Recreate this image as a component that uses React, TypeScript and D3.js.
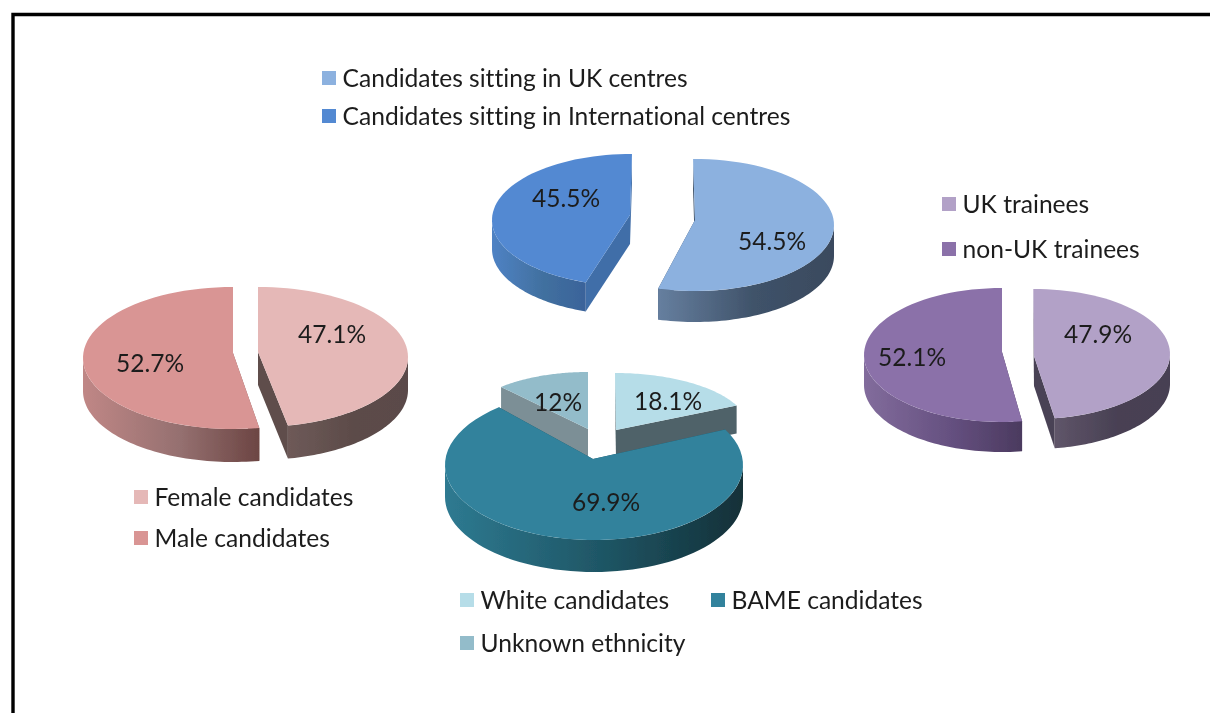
import React from "react";
import * as d3 from "d3";

// ---------- data ----------
const venueLabels = ["Candidates sitting in UK centres", "Candidates sitting in International centres"];
const venueValues = [54.5, 45.5];
const genderLabels = ["Female candidates", "Male candidates"];
const genderValues = [47.1, 52.7];
const traineeLabels = ["UK trainees", "non-UK trainees"];
const traineeValues = [47.9, 52.1];
const ethnicityLabels = ["White candidates", "BAME candidates", "Unknown ethnicity"];
const ethnicityValues = [18.1, 69.9, 12];

// ---------- appearance ----------
type Look = {
  top: string; wall: [string, string, string]; face: string;
  apex: [number, number]; c: [number, number]; rx: number; ry: number; d: number; label: [number, number];
  shift?: [number, number]; // perspective correction of the cut lines, degrees
};
const venueLooks: Look[] = [
  { top: "#8CB1DF", wall: ["#667F9F", "#3F5269", "#3A4A5E"], face: "#3F5269", apex: [695, 220], c: [695, 225], rx: 139, ry: 66, d: 31, label: [772, 240], shift: [-0.8, -0.8] },
  { top: "#5389D2", wall: ["#4F82C4", "#41709F", "#3A639A"], face: "#406EA8", apex: [630, 215], c: [631, 220], rx: 139, ry: 66, d: 29, label: [566, 197], shift: [2.8, 0.4] },
];
const genderLooks: Look[] = [
  { top: "#E5B8B7", wall: ["#6E5A58", "#5C4B49", "#5A4A48"], face: "#5E4D4B", apex: [258, 352], c: [258, 357], rx: 150, ry: 70, d: 33, label: [332, 333], shift: [0, -1.4] },
  { top: "#D99594", wall: ["#C08786", "#957070", "#6C4543"], face: "#8A5F5E", apex: [233, 353], c: [233, 358], rx: 150, ry: 71, d: 33, label: [150, 362] },
];
const traineeLooks: Look[] = [
  { top: "#B2A1C7", wall: ["#5F5569", "#484053", "#473F52"], face: "#4A4255", apex: [1034, 356], c: [1034, 354], rx: 136, ry: 65, d: 30, label: [1098, 333], shift: [-0.3, -1.2] },
  { top: "#8B71A9", wall: ["#826C9C", "#655080", "#4B3A5F"], face: "#4B3A5F", apex: [1002, 352], c: [1002, 355], rx: 138, ry: 67, d: 30, label: [912, 356], shift: [-0.8, 0] },
];
const ethnicityLooks: Look[] = [
  { top: "#B6DDE8", wall: ["#4F6269", "#4F6269", "#4F6269"], face: "#4F6269", apex: [616, 430], c: [615, 429], rx: 134, ry: 56, d: 28, label: [668, 400] },
  { top: "#31829C", wall: ["#2E7A91", "#1E5463", "#133038"], face: "#1E5463", apex: [593, 459], c: [594, 465], rx: 149, ry: 75, d: 32, label: [606, 501], shift: [-3.5, 3.5] },
  { top: "#93BCCA", wall: ["#7B8F96", "#7B8F96", "#7B8F96"], face: "#7B8F96", apex: [588, 429], c: [588, 427], rx: 127, ry: 55, d: 29, label: [558, 401] },
];

const legendRows = [
  { labels: venueLabels, looks: venueLooks, at: [[322, 78], [322, 116]] },
  { labels: genderLabels, looks: genderLooks, at: [[134, 497], [134, 538]] },
  { labels: traineeLabels, looks: traineeLooks, at: [[942, 204], [942, 249]] },
  { labels: ethnicityLabels, looks: ethnicityLooks, at: [[460, 600], [711, 600], [460, 643]] },
];

const pies = [
  { id: "venue", values: venueValues, looks: venueLooks, order: [1, 0] },
  { id: "gender", values: genderValues, looks: genderLooks, order: [0, 1] },
  { id: "trainee", values: traineeValues, looks: traineeLooks, order: [0, 1] },
  { id: "eth", values: ethnicityValues, looks: ethnicityLooks, order: [2, 0, 1] },
];

const FONT = "Lato, Carlito, 'Open Sans', sans-serif";
const TEXT = "#1c1c1c";
const DEG = Math.PI / 180;
const line = d3.line<[number, number]>().x((p) => p[0]).y((p) => p[1]);

function Slice({ id, look, a0, a1 }: { id: string; look: Look; a0: number; a1: number }) {
  const rim = (a: number, dy = 0): [number, number] => [
    look.c[0] + look.rx * Math.sin(a),
    look.c[1] - look.ry * Math.cos(a) + dy,
  ];
  const arcPts = (s: number, e: number, dy = 0) =>
    d3.range(0, 61).map((i) => rim(s + ((e - s) * i) / 60, dy));
  const { apex, d } = look;
  const start = a0 + (look.shift ? look.shift[0] * DEG : 0);
  const end = a1 + (look.shift ? look.shift[1] * DEG : 0);
  const down = (p: [number, number]): [number, number] => [p[0], p[1] + d];
  const topPts: [number, number][] = [apex, ...arcPts(start, end)];

  const s = Math.max(start, Math.PI / 2);
  const e = Math.min(end, (3 * Math.PI) / 2);
  const hasWall = e > s;
  const wallPts = hasWall ? [...arcPts(s, e), ...arcPts(s, e, d).reverse()] : [];
  const xs = wallPts.map((p) => p[0]);
  const x0 = xs.length ? d3.min(xs)! : 0;
  const x1 = xs.length ? d3.max(xs)! : 1;

  const faces = [rim(start), rim(end)].map((p) => [apex, p, down(p), down(apex)] as [number, number][]);

  return (
    <g>
      <defs>
        <linearGradient id={id} gradientUnits="userSpaceOnUse" x1={x0} x2={x1} y1={0} y2={0}>
          <stop offset="0" stopColor={look.wall[0]} />
          <stop offset="0.55" stopColor={look.wall[1]} />
          <stop offset="1" stopColor={look.wall[2]} />
        </linearGradient>
      </defs>
      {faces.map((f, i) => (
        <path key={i} d={line(f) + "Z"} fill={look.face} />
      ))}
      {hasWall && <path d={line(wallPts) + "Z"} fill={`url(#${id})`} />}
      <path d={line(topPts) + "Z"} fill={look.top} />
    </g>
  );
}

export default function App() {
  const pieGen = d3.pie<number>().sort(null).value((v) => v);
  return (
    <svg
      width={1210}
      height={713}
      viewBox="0 0 1210 713"
      style={{ position: "absolute", left: 0, top: 0, display: "block", background: "#fff", fontVariantLigatures: "none" }}
    >
      <defs>
        <filter id="soft" x="-5%" y="-5%" width="110%" height="110%">
          <feGaussianBlur stdDeviation="0.45" />
        </filter>
      </defs>
      <path d="M13 713V14.5H1210" fill="none" stroke="#000" strokeWidth={3.4} />
      <g filter="url(#soft)">
        {pies.map((p) => {
          const arcs = pieGen(p.values);
          return (
            <g key={p.id}>
              {p.order.map((i) => (
                <Slice key={i} id={`${p.id}-${i}`} look={p.looks[i]} a0={arcs[i].startAngle} a1={arcs[i].endAngle} />
              ))}
              {p.values.map((v, i) => (
                <text
                  key={i}
                  x={p.looks[i].label[0]}
                  y={p.looks[i].label[1]}
                  textAnchor="middle"
                  dominantBaseline="central"
                  fontFamily={FONT}
                  fontSize={24.5}
                  fill={TEXT}
                >
                  {v}%
                </text>
              ))}
            </g>
          );
        })}
        {legendRows.map((row, r) =>
          row.labels.map((label, i) => (
            <g key={`${r}-${i}`}>
              <rect x={row.at[i][0]} y={row.at[i][1] - 7} width={14} height={14} fill={row.looks[i].top} />
              <text
                x={row.at[i][0] + 20.5}
                y={row.at[i][1] - 0.5}
                dominantBaseline="central"
                fontFamily={FONT}
                fontSize={24.6}
                fill={TEXT}
              >
                {label}
              </text>
            </g>
          ))
        )}
      </g>
    </svg>
  );
}
